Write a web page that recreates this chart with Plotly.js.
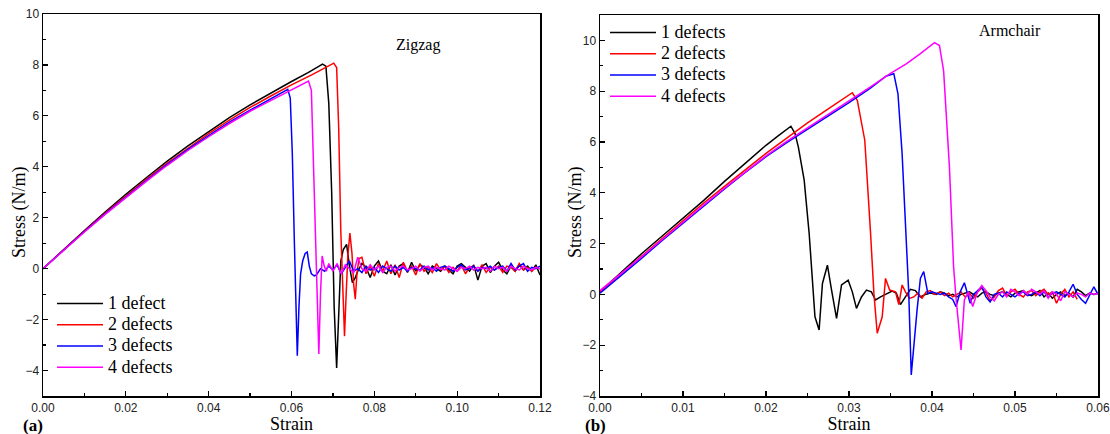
<!DOCTYPE html>
<html>
<head>
<meta charset="utf-8">
<script src="https://cdn.plot.ly/plotly-3.0.1.min.js"></script>
<style>html,body{margin:0;padding:0;background:#fff;}#chart{width:1110px;height:434px;}</style>
</head>
<body>
<div id="chart"></div>
<script>
// ---------- (a) Zigzag ----------
const zz1x = [0,0.005,0.01,0.015,0.02,0.025,0.03,0.035,0.04,0.045,0.05,0.055,0.06,0.064,0.0675,0.0683,0.069,0.0697,0.0703,0.0709,0.0714,0.0719,0.0725,0.0733,0.074,0.0747,0.0754,
  0.076,0.077,0.078,0.079,0.080,0.081,0.082,0.083,0.084,0.085,0.086,0.087,0.088,0.089,0.090,0.091,0.092,0.093,0.094,0.095,0.096,0.097,0.098,0.099,0.100,0.101,0.102,0.103,0.104,0.105,0.106,0.107,0.108,0.109,0.110,0.111,0.112,0.113,0.114,0.115,0.116,0.117,0.118,0.119,0.120];
const zz1y = [0,0.76,1.5,2.22,2.92,3.58,4.22,4.82,5.38,5.93,6.43,6.9,7.35,7.7,8.03,7.95,6.5,3.0,-1.5,-3.9,-1.8,0.3,0.75,0.95,0.1,-0.55,-0.35,
  -0.1,0.2,0.05,-0.35,0.1,0.3,-0.1,-0.2,0.15,-0.25,0.1,0.2,-0.15,0.25,-0.1,0.15,0.05,-0.2,0.1,0.0,-0.1,0.1,-0.05,-0.2,0.1,0.2,0.05,-0.1,0.15,-0.45,0.1,0.2,-0.15,0.1,0.25,-0.05,-0.2,0.1,-0.1,0.15,-0.05,0.1,-0.1,0.15,-0.25];

const zz2x = [0,0.005,0.01,0.015,0.02,0.025,0.03,0.035,0.04,0.045,0.05,0.055,0.06,0.065,0.0702,0.0709,0.0714,0.0719,0.0724,0.0728,0.0732,0.0736,0.0741,0.0746,0.0750,0.0754,0.0758,0.0763,
  0.077,0.078,0.079,0.080,0.081,0.082,0.083,0.084,0.085,0.086,0.087,0.088,0.089,0.090,0.091,0.092,0.093,0.094,0.095,0.096,0.097,0.098,0.099,0.100,0.101,0.102,0.103,0.104,0.105,0.106,0.107,0.108,0.109,0.110,0.111,0.112,0.113,0.114,0.115,0.116,0.117,0.118,0.119,0.120];
const zz2y = [0,0.75,1.48,2.18,2.86,3.52,4.15,4.74,5.3,5.83,6.33,6.78,7.22,7.62,8.07,7.9,5.5,1.5,-1.2,-2.65,-1.0,0.5,1.4,0.6,-0.6,-1.2,-0.2,0.4,
  0.45,-0.2,0.1,-0.3,0.2,-0.1,0.3,-0.2,0.15,-0.35,0.25,-0.1,0.1,-0.25,0.2,-0.1,0.05,-0.15,0.2,-0.05,0.1,-0.15,0.05,-0.1,0.15,-0.2,0.05,0.1,-0.1,0.15,-0.15,0.05,-0.05,0.1,-0.15,0.1,0.05,-0.1,0.2,-0.05,0.05,-0.1,0.05,0.0];

const zz3x = [0,0.005,0.01,0.015,0.02,0.025,0.03,0.035,0.04,0.045,0.05,0.055,0.0591,0.0597,0.0602,0.0607,0.0611,0.0614,0.0618,0.0622,0.0627,0.0633,0.0638,0.0643,0.0648,0.0655,0.066,
  0.067,0.068,0.069,0.070,0.071,0.072,0.073,0.074,0.075,0.076,0.077,0.078,0.079,0.080,0.081,0.082,0.083,0.084,0.085,0.086,0.087,0.088,0.089,0.090,0.091,0.092,0.093,0.094,0.095,0.096,0.097,0.098,0.099,0.100,0.101,0.102,0.103,0.104,0.105,0.106,0.107,0.108,0.109,0.110,0.111,0.112,0.113,0.114,0.115,0.116,0.117,0.118,0.119,0.120];
const zz3y = [0,0.74,1.46,2.15,2.82,3.47,4.1,4.68,5.22,5.75,6.22,6.66,7.04,6.7,4.5,1.0,-2.0,-3.42,-1.5,-0.2,0.3,0.6,0.65,0.1,-0.2,-0.28,-0.25,
  0.0,-0.1,0.1,-0.05,0.15,-0.2,0.05,0.3,-0.1,0.0,-0.15,0.1,-0.05,0.05,-0.15,0.1,0.0,-0.1,0.1,-0.05,0.05,-0.1,0.05,0.0,-0.05,0.1,-0.05,0.05,-0.1,0.05,0.1,0.0,-0.1,0.05,0.15,-0.05,0.0,0.1,-0.1,0.05,0.0,0.1,-0.05,0.05,0.1,-0.1,0.2,-0.05,0.1,0.2,-0.1,0.05,0.0,0.1];

const zz4x = [0,0.005,0.01,0.015,0.02,0.025,0.03,0.035,0.04,0.045,0.05,0.055,0.06,0.0641,0.0648,0.0653,0.0658,0.0662,0.0666,0.067,0.0674,0.0679,0.0684,
  0.069,0.070,0.071,0.072,0.073,0.074,0.075,0.076,0.077,0.078,0.079,0.080,0.081,0.082,0.083,0.084,0.085,0.086,0.087,0.088,0.089,0.090,0.091,0.092,0.093,0.094,0.095,0.096,0.097,0.098,0.099,0.100,0.101,0.102,0.103,0.104,0.105,0.106,0.107,0.108,0.109,0.110,0.111,0.112,0.113,0.114,0.115,0.116,0.117,0.118,0.119,0.120];
const zz4y = [0,0.73,1.44,2.13,2.8,3.44,4.06,4.64,5.18,5.7,6.18,6.6,7.05,7.37,7.0,4.0,0.5,-2.0,-3.35,-1.0,0.5,0.1,-0.1,
  0.2,-0.1,0.2,-0.2,0.15,0.0,-0.15,0.45,0.0,-0.1,0.15,-0.05,0.1,-0.15,0.05,0.1,-0.1,0.05,0.1,-0.05,0.0,0.1,-0.1,0.05,0.1,-0.05,0.05,0.0,-0.05,0.1,0.0,-0.1,0.05,0.0,0.1,-0.05,0.05,0.0,0.05,-0.1,0.1,0.0,0.05,-0.1,0.1,0.0,-0.05,0.1,0.0,-0.05,0.05,0.0];

// ---------- (b) Armchair ----------
const ac1x = [0,0.0025,0.005,0.0075,0.01,0.0125,0.015,0.0175,0.02,0.0215,0.0225,0.023,0.0235,0.0239,0.0246,0.0252,0.0259,0.0264,0.0268,0.0274,0.0279,0.0285,0.0291,0.0299,0.0304,0.0309,0.0315,0.0321,0.0327,0.0332,0.0338,0.0344,0.0352,0.0357,0.0362,0.0368,0.0374,0.038,0.0386,0.0392,0.0398,
  0.0405,0.041,0.0415,0.042,0.0425,0.043,0.0435,0.044,0.0445,0.045,0.0455,0.046,0.0465,0.047,0.0475,0.048,0.0485,0.049,0.0495,0.05,0.0505,0.051,0.0515,0.052,0.0525,0.053,0.0535,0.054,0.0545,0.055,0.0555,0.056,0.0565,0.057,0.0575,0.058,0.0585,0.059,0.0595,0.06];
const ac1y = [0.1,0.85,1.6,2.3,3.0,3.7,4.45,5.15,5.87,6.25,6.5,6.62,6.33,5.8,4.5,2.4,-0.88,-1.4,0.43,1.15,0.17,-0.94,0.37,0.56,0.1,-0.55,-0.1,0.17,0.1,-0.22,-0.1,0.0,0.13,0.05,-0.4,-0.1,0.2,0.15,-0.1,0.0,0.05,
  0.0,0.1,0.05,-0.05,0.0,-0.1,0.0,0.05,0.1,0.0,-0.1,0.05,0.1,0.0,-0.05,0.05,0.1,0.0,-0.1,0.05,0.1,0.15,0.0,-0.05,0.05,0.15,-0.1,0.05,-0.15,0.0,0.1,-0.05,0.05,-0.1,0.2,0.1,-0.05,0.05,0.0,0.05];

const ac2x = [0,0.0025,0.005,0.0075,0.01,0.0125,0.015,0.0175,0.02,0.0225,0.025,0.0275,0.03,0.0304,0.031,0.0319,0.0326,0.033,0.0334,0.034,0.0344,0.0349,0.0356,0.036,0.0364,0.0368,0.0373,0.0378,0.0383,0.0388,0.0393,0.0398,0.0403,
  0.041,0.0415,0.042,0.0425,0.043,0.0435,0.044,0.0445,0.045,0.0455,0.046,0.0465,0.047,0.0475,0.048,0.0485,0.049,0.0495,0.05,0.0505,0.051,0.0515,0.052,0.0525,0.053,0.0535,0.054,0.0545,0.055,0.0555,0.056,0.0565,0.057,0.0575];
const ac2y = [0.1,0.8,1.5,2.2,2.9,3.6,4.25,4.9,5.55,6.15,6.75,7.3,7.85,7.94,7.64,6.07,2.4,0.04,-1.53,-0.88,0.63,0.17,0.1,-0.4,0.37,0.1,-0.16,-0.1,0.05,-0.15,0.1,0.15,0.0,
  0.1,-0.05,0.05,-0.1,0.0,0.1,-0.1,0.05,-0.15,0.1,0.25,0.05,-0.25,-0.1,0.15,0.25,-0.05,0.1,0.2,0.0,-0.1,0.1,0.15,-0.05,0.1,0.2,0.0,0.1,-0.35,0.0,0.2,-0.1,0.1,-0.2];

const ac3x = [0,0.0025,0.005,0.0075,0.01,0.0125,0.015,0.0175,0.02,0.0225,0.025,0.0275,0.03,0.0325,0.0345,0.0354,0.0359,0.0364,0.0369,0.0372,0.0375,0.0379,0.0382,0.0386,0.039,0.0395,0.04,0.0405,0.041,0.0415,0.042,0.0425,0.0429,0.0434,0.0439,0.0446,
  0.045,0.0455,0.046,0.0465,0.047,0.0475,0.048,0.0485,0.049,0.0495,0.05,0.0505,0.051,0.0515,0.052,0.0525,0.053,0.0535,0.054,0.0545,0.055,0.0555,0.056,0.0565,0.057,0.0575,0.058,0.0585,0.059,0.0595,0.06];
const ac3y = [0.05,0.72,1.42,2.12,2.8,3.5,4.15,4.8,5.42,5.98,6.5,7.05,7.55,8.1,8.6,8.69,7.9,5.54,2.4,0.04,-3.17,-1.5,-0.62,0.63,0.9,0.04,0.1,0.05,0.0,0.05,-0.1,-0.2,-0.48,0.1,0.46,-0.35,
  0.0,0.15,0.3,-0.1,-0.3,0.0,0.05,-0.1,0.1,0.0,-0.1,0.05,0.1,-0.05,0.0,0.1,-0.05,0.1,-0.1,0.05,0.1,0.0,-0.1,0.1,0.4,0.0,-0.2,-0.35,0.0,0.3,0.0];

const ac4x = [0,0.0025,0.005,0.0075,0.01,0.0125,0.015,0.0175,0.02,0.0225,0.025,0.0275,0.03,0.0325,0.035,0.0369,0.0386,0.0403,0.0409,0.0414,0.0421,0.0426,0.0429,0.0435,0.0439,0.0444,0.0449,
  0.0455,0.046,0.0465,0.047,0.0475,0.048,0.0485,0.049,0.0495,0.05,0.0505,0.051,0.0515,0.052,0.0525,0.053,0.0535,0.054,0.0545,0.055,0.0555,0.056,0.0565,0.057,0.0575,0.058,0.0585,0.059,0.0595,0.06];
const ac4y = [0.15,0.8,1.48,2.16,2.85,3.52,4.18,4.83,5.45,6.02,6.55,7.1,7.6,8.15,8.7,9.08,9.48,9.91,9.8,8.8,5.02,1.09,-0.16,-2.19,-0.22,0.1,-0.48,
  0.1,0.35,0.15,-0.1,-0.25,0.0,0.1,-0.1,0.2,0.1,-0.05,0.15,0.0,0.2,0.1,0.0,0.15,-0.15,0.1,0.0,-0.25,0.1,0.0,-0.1,0.05,0.0,-0.1,0.05,0.0,0.05];

const zzNames = ['1 defect','2 defects','3 defects','4 defects'];
const acNames = ['1 defects','2 defects','3 defects','4 defects'];
const colors = ['#000000','#ff0000','#0000ff','#ff00ff'];

// tick values
const zzTicksX = [0,0.02,0.04,0.06,0.08,0.10,0.12];
const acTicksX = [0,0.01,0.02,0.03,0.04,0.05,0.06];
const zzTicksY = [-4,-2,0,2,4,6,8,10];
const acTicksY = [-4,-2,0,2,4,6,8,10];

const zzX = [zz1x,zz2x,zz3x,zz4x], zzY = [zz1y,zz2y,zz3y,zz4y];
const acX = [ac1x,ac2x,ac3x,ac4x], acY = [ac1y,ac2y,ac3y,ac4y];

const big = s => '<span style="font-family:Liberation Serif, Times New Roman, serif;font-size:18px">' + s + '</span>';

const traces = [];
for (let i=0;i<4;i++){
  traces.push({x:zzX[i], y:zzY[i], name:big(zzNames[i]), type:'scatter', mode:'lines',
    line:{color:colors[i], width:1.5}, xaxis:'x', yaxis:'y', legend:'legend'});
}
for (let i=0;i<4;i++){
  traces.push({x:acX[i], y:acY[i], name:big(acNames[i]), type:'scatter', mode:'lines',
    line:{color:colors[i], width:1.5}, xaxis:'x2', yaxis:'y2', legend:'legend2'});
}

const serif = '"Liberation Serif", "Times New Roman", serif';
const sans = '"Liberation Sans", Arial, sans-serif';
const tickFont = {family:sans, size:12, color:'#222'};
const axBase = {showline:true, linecolor:'#000', linewidth:1.5, mirror:true, ticks:'inside', ticklen:5, tickwidth:1.2, tickcolor:'#000',
  showgrid:false, zeroline:false, tickfont:tickFont, ticklabelstandoff:0, tickmode:'array', ticklabeloverflow:'allow'};

const layout = {
  width:1110, height:434,
  margin:{l:0,r:0,t:0,b:0},
  paper_bgcolor:'#fff', plot_bgcolor:'#fff',
  showlegend:true,
  font:{family:serif},
  xaxis: Object.assign({}, axBase, {domain:[43/1110, 540/1110], range:[0,0.12], tickvals:zzTicksX, ticktext:zzTicksX.map(v=>v.toFixed(2)),
    minor:{dtick:0.01, tick0:0, ticklen:3, ticks:'inside', tickcolor:'#000'}, anchor:'y',
    title:{text:'Strain', font:{family:serif, size:18, color:'#000'}, standoff:4}}),
  yaxis: Object.assign({}, axBase, {domain:[1-396/434, 1-14/434], range:[-5,10], tickvals:zzTicksY,
    minor:{dtick:1, tick0:0, ticklen:3, ticks:'inside', tickcolor:'#000'}, anchor:'x'}),
  xaxis2: Object.assign({}, axBase, {domain:[600/1110, 1098/1110], range:[0,0.06], tickvals:acTicksX, ticktext:acTicksX.map(v=>v.toFixed(2)),
    minor:{dtick:0.005, tick0:0, ticklen:3, ticks:'inside', tickcolor:'#000'}, anchor:'y2',
    title:{text:'Strain', font:{family:serif, size:18, color:'#000'}, standoff:4}}),
  yaxis2: Object.assign({}, axBase, {domain:[1-396/434, 1-15/434], range:[-4,11], tickvals:acTicksY,
    minor:{dtick:1, tick0:0, ticklen:3, ticks:'inside', tickcolor:'#000'}, anchor:'x2'}),
  legend:{x:52/1110, y:1-288/434, xanchor:'left', yanchor:'top', bgcolor:'rgba(0,0,0,0)',
    font:{family:serif, size:14, color:'#000'}, itemwidth:46, tracegroupgap:0},
  legend2:{x:605/1110, y:1-17/434, xanchor:'left', yanchor:'top', bgcolor:'rgba(0,0,0,0)',
    font:{family:serif, size:14, color:'#000'}, itemwidth:46, tracegroupgap:0},
  annotations:[
    {xref:'paper', yref:'paper', x:19/1110, y:1-212/434, xanchor:'center', yanchor:'middle', textangle:-90, text:'Stress (N/m)', showarrow:false, font:{family:serif, size:18, color:'#000'}},
    {xref:'paper', yref:'paper', x:575/1110, y:1-212/434, xanchor:'center', yanchor:'middle', textangle:-90, text:'Stress (N/m)', showarrow:false, font:{family:serif, size:18, color:'#000'}},
    {xref:'paper', yref:'paper', x:418/1110, y:1-45/434, xanchor:'center', yanchor:'middle', text:'Zigzag', showarrow:false, font:{family:serif, size:16, color:'#000'}},
    {xref:'paper', yref:'paper', x:1010/1110, y:1-31/434, xanchor:'center', yanchor:'middle', text:'Armchair', showarrow:false, font:{family:serif, size:16, color:'#000'}},
    {xref:'paper', yref:'paper', x:33/1110, y:1-425/434, xanchor:'center', yanchor:'middle', text:'<b>(a)</b>', showarrow:false, font:{family:serif, size:17, color:'#000'}},
    {xref:'paper', yref:'paper', x:595/1110, y:1-425/434, xanchor:'center', yanchor:'middle', text:'<b>(b)</b>', showarrow:false, font:{family:serif, size:17, color:'#000'}}
  ]
};

Plotly.newPlot('chart', traces, layout, {displayModeBar:false, staticPlot:true});
</script>
</body>
</html>
